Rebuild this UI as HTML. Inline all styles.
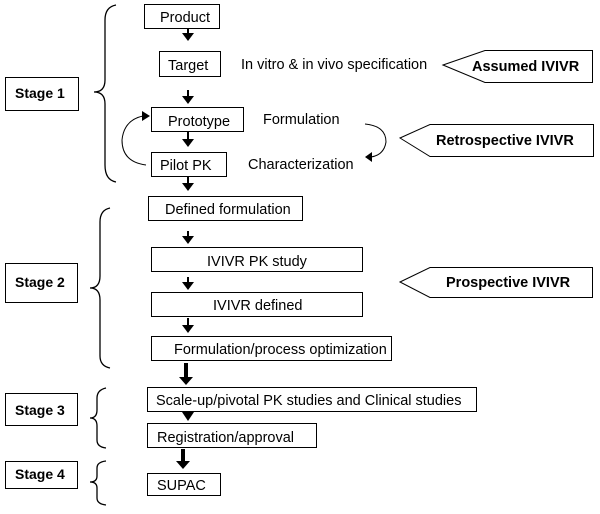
<!DOCTYPE html>
<html><head><meta charset="utf-8"><style>
html,body{margin:0;padding:0;background:#fff;}
svg{display:block;}
text{font-family:"Liberation Sans",Arial,sans-serif;font-size:14.5px;fill:#000;}
.b{font-weight:bold;font-size:14.5px;}
.s{font-weight:bold;font-size:14px;}
</style></head><body>
<svg width="600" height="514" viewBox="0 0 600 514" xmlns="http://www.w3.org/2000/svg">
<g fill="#fff" stroke="#000" stroke-width="1">
<rect x="144.5" y="4.5" width="75" height="24"/>
<rect x="159.5" y="51.5" width="61" height="25"/>
<rect x="151.5" y="107.5" width="92" height="24"/>
<rect x="151.5" y="152.5" width="75" height="24"/>
<rect x="148.5" y="196.5" width="154" height="24"/>
<rect x="151.5" y="247.5" width="211" height="24"/>
<rect x="151.5" y="292.5" width="211" height="24"/>
<rect x="151.5" y="336.5" width="240" height="24"/>
<rect x="147.5" y="387.5" width="329" height="24"/>
<rect x="147.5" y="423.5" width="169" height="24"/>
<rect x="147.5" y="473.5" width="73" height="22"/>
<rect x="5.5" y="77.5" width="73" height="33"/>
<rect x="5.5" y="263.5" width="72" height="39"/>
<rect x="5.5" y="393.5" width="72" height="32"/>
<rect x="5.5" y="461.5" width="72" height="27"/>
<polygon points="443,65 485,50.5 592.5,50.5 592.5,82.5 485,82.5"/>
<polygon points="400,138 430,124.5 593.5,124.5 593.5,156.5 430,156.5"/>
<polygon points="400,282 430,267.5 592.5,267.5 592.5,297.5 430,297.5"/>
</g>
<g fill="none" stroke="#000" stroke-width="1.3">
<path d="M116,5 Q105,7 105,20 L105,80 Q105,92 94,92 Q105,92 105,104 L105,165 Q105,180 116,182"/>
<path d="M110,208 Q100,210 100,222 L100,276 Q100,288 90,288 Q100,288 100,300 L100,356 Q100,366 110,368"/>
<path d="M106,388 Q97,390 97,398 L97,410 Q97,418 90,418 Q97,418 97,426 L97,440 Q97,447 106,448"/>
<path d="M106,461 Q97,462 97,468 L97,476 Q97,482 90,482 Q97,482 97,488 L97,498 Q97,504 106,505"/>
<path d="M146,165 Q122,162 122,140 Q124,120 143,116" stroke-width="1"/>
<path d="M365,124 Q386,126 386,142 Q384,155 371,157" stroke-width="1"/>
</g>
<g fill="#000">
<polygon points="150,116 142,111 142,121"/>
<polygon points="365,157 372,152 372,162"/>
<rect x="187" y="28" width="2" height="6"/><polygon points="182,33 194,33 188,41"/>
<rect x="187" y="90" width="2" height="7"/><polygon points="182,96 194,96 188,104"/>
<rect x="187" y="132" width="2" height="8"/><polygon points="182,139 194,139 188,147"/>
<rect x="187" y="177" width="2" height="7"/><polygon points="182,183 194,183 188,191"/>
<rect x="187" y="231" width="2" height="6"/><polygon points="182,236 194,236 188,244"/>
<rect x="187" y="277" width="2" height="6"/><polygon points="182,282 194,282 188,290"/>
<rect x="187" y="318" width="2" height="8"/><polygon points="182,325 194,325 188,333"/>
<rect x="184" y="363" width="4" height="15"/><polygon points="179,377 193,377 186,385"/>
<rect x="187" y="411" width="2" height="3"/><polygon points="182,412 194,412 188,421"/>
<rect x="181" y="449" width="4" height="13"/><polygon points="176,461 190,461 183,469"/>
</g>
<text x="160" y="22">Product</text>
<text x="168" y="70">Target</text>
<text x="241" y="69">In vitro &amp; in vivo specification</text>
<text x="168" y="126">Prototype</text>
<text x="263" y="124">Formulation</text>
<text x="160" y="170">Pilot PK</text>
<text x="248" y="169">Characterization</text>
<text x="165" y="214">Defined formulation</text>
<text x="207" y="266">IVIVR PK study</text>
<text x="213" y="310">IVIVR defined</text>
<text x="174" y="354">Formulation/process optimization</text>
<text x="156" y="405">Scale-up/pivotal PK studies and Clinical studies</text>
<text x="157" y="442">Registration/approval</text>
<text x="157" y="490">SUPAC</text>
<text class="s" x="15" y="98">Stage 1</text>
<text class="s" x="15" y="287">Stage 2</text>
<text class="s" x="15" y="415">Stage 3</text>
<text class="s" x="15" y="479">Stage 4</text>
<text class="b" x="472" y="71">Assumed IVIVR</text>
<text class="b" x="436" y="145">Retrospective IVIVR</text>
<text class="b" x="446" y="287">Prospective IVIVR</text>
</svg>
</body></html>
